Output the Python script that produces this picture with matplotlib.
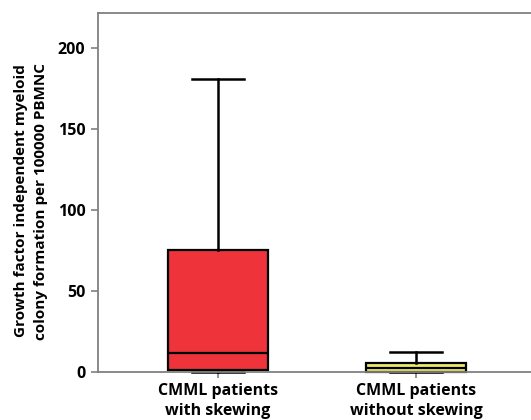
import matplotlib
matplotlib.use("Agg")
import matplotlib.pyplot as plt

# Box summary values
groups = ["CMML patients\nwith skewing", "CMML patients\nwithout skewing"]
whislo = [0.0, 0.0]
q1 = [1.0, 0.0]
med = [11.7, 2.5]
q3 = [75.5, 5.8]
whishi = [180.5, 12.5]
colors = ["#ee333b", "#eeea6c"]
yticks = [0, 50, 100, 150, 200]

plt.rcParams['font.family'] = ['Open Sans', 'DejaVu Sans']
plt.rcParams['font.weight'] = 'bold'

fig = plt.figure(figsize=(5.31, 4.2), dpi=100)
ax = fig.add_axes([98 / 531, 48 / 420, 1 - 98 / 531, 359 / 420])

stats = []
for i in range(len(groups)):
    stats.append({"whislo": whislo[i], "q1": q1[i], "med": med[i],
                  "q3": q3[i], "whishi": whishi[i], "fliers": []})

bp = ax.bxp(stats, positions=[1, 2], widths=0.505, patch_artist=True,
            showfliers=False,
            boxprops=dict(linewidth=1.6, edgecolor="black"),
            medianprops=dict(color="black", linewidth=1.6),
            whiskerprops=dict(color="black", linewidth=1.8),
            capprops=dict(color="black", linewidth=1.8),
            capwidths=0.26)
for patch, c in zip(bp["boxes"], colors):
    patch.set_facecolor(c)
for art in bp["caps"] + bp["whiskers"] + bp["medians"] + bp["boxes"]:
    art.set_clip_on(False)

ax.set_xlim(0.394, 2.58)
ax.set_ylim(0, 221.5)
ax.set_yticks(yticks)
ax.set_xticks([1, 2])
ax.set_xticklabels(groups, fontsize=11.5, fontweight="bold", linespacing=1.3)
ax.tick_params(axis="y", direction="out", length=5, width=1.2, color="#808080",
               labelsize=11.5, pad=4)
ax.tick_params(axis="x", direction="out", length=4, width=1.2, color="#808080",
               pad=4)

for side in ["left", "bottom", "top"]:
    ax.spines[side].set_color("#808080")
    ax.spines[side].set_linewidth(1.3)
ax.spines["right"].set_visible(False)

fig.text(31 / 531, 1 - 201 / 420,
         "Growth factor independent myeloid\ncolony formation per 100000 PBMNC",
         rotation=90, ha="center", va="center", fontsize=11, fontweight="bold",
         linespacing=1.5)

fig.savefig("out.png", dpi=100)
